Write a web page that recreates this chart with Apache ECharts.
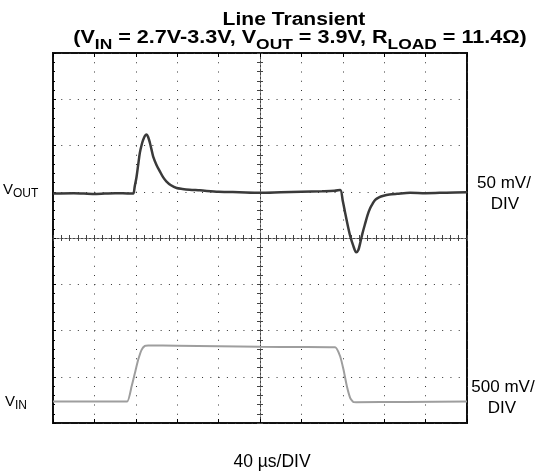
<!DOCTYPE html>
<html>
<head>
<meta charset="utf-8">
<script src="https://cdn.jsdelivr.net/npm/echarts@6/dist/echarts.min.js"></script>
<style>
html,body{margin:0;padding:0;background:#fff;}
#chart{width:535px;height:472px;}
</style>
</head>
<body>
<div id="chart"></div>
<script>
// Time axis: 40 µs/DIV, 10 divisions
const timeTicks = [0, 40, 80, 120, 160, 200, 240, 280, 320, 360, 400];

// VOUT deviation (mV), 50 mV/DIV
const voutTime = [0, 20, 40, 60, 75, 77.5, 79, 80.7, 82.3, 83.9, 85.5, 87.1, 88.8, 90.4, 92, 93.6, 95.2, 96.8, 100, 103.3, 106.5, 109.7, 114, 119.4, 125, 132, 142, 160, 180, 200, 220, 240, 260, 272, 277.5, 280, 282.3, 284.7, 287.2, 290, 293, 295, 296.8, 299, 301.7, 304, 306.5, 309, 311.3, 315, 319.4, 325, 332.4, 345, 360, 380, 400];
const voutMv   = [-2, -1.5, -2.5, -1.5, -2, -2, 6, 16, 29, 42, 50, 56, 60.5, 62, 59, 53, 45.5, 38, 29, 22, 15.5, 11, 7, 4, 3, 2.2, 1.5, 0, -0.5, -1, -0.5, 0, 0.5, 1, 2, -10, -23, -36, -48, -58, -65.5, -63, -55.5, -45, -34, -25, -17.6, -12.5, -8.7, -6, -4.3, -3, -2.2, -1.1, -1.5, -1, -0.5];

// VIN (V), 500 mV/DIV
const vinTime = [0, 40, 71.6, 75.9, 79.1, 82.3, 85.6, 88.8, 92, 120, 160, 200, 240, 272.6, 277.5, 280.7, 284, 287.2, 290.4, 293, 340, 400];
const vinV    = [2.70, 2.70, 2.70, 2.862, 3.007, 3.151, 3.259, 3.302, 3.306, 3.303, 3.298, 3.292, 3.29, 3.286, 3.187, 3.043, 2.862, 2.737, 2.694, 2.693, 2.695, 2.70];

const zip = (a, b) => a.map((v, i) => [v, b[i]]);

const chart = echarts.init(document.getElementById('chart'), null, {renderer: 'canvas'});
const FONT = '"Liberation Sans", Arial, sans-serif';

const hidden = {show: false};
const noLine = {show: false, onZero: false};

const option = {
  animation: false,
  backgroundColor: '#fff',
  grid: {left: 53, right: 68, top: 53, bottom: 49, show: true, borderColor: '#111', borderWidth: 2, outerBoundsMode: 'none'},
  xAxis: [
    { // 0: main bottom
      type: 'value', min: timeTicks[0], max: timeTicks[timeTicks.length - 1], interval: 40, position: 'bottom',
      axisLine: noLine, axisLabel: hidden,
      axisTick: {show: true, inside: true, length: 4, lineStyle: {color: '#000', width: 1}},
      splitLine: {show: true, lineStyle: {type: [1, 8.25], color: '#333', width: 1}}
    },
    { // 1: top border ticks
      type: 'value', min: 0, max: 400, interval: 40, position: 'top',
      axisLine: noLine, axisLabel: hidden, splitLine: hidden,
      axisTick: {show: true, inside: true, length: 4, lineStyle: {color: '#000', width: 1}}
    },
    { // 2: center horizontal, ticks up
      type: 'value', min: 0, max: 400, interval: 40, position: 'bottom',
      axisLine: {show: true, onZero: true, onZeroAxisIndex: 2, lineStyle: {type: [2, 2], color: '#444', width: 1}},
      axisTick: {show: true, inside: true, length: 3, lineStyle: {color: '#444'}},
      minorTick: {show: true, splitNumber: 5, length: 3, lineStyle: {color: '#444'}},
      axisLabel: hidden, splitLine: hidden
    },
    { // 3: center horizontal, ticks down
      type: 'value', min: 0, max: 400, interval: 40, position: 'bottom',
      axisLine: {show: true, onZero: true, onZeroAxisIndex: 2, lineStyle: {type: [2, 2], color: '#444', width: 1}},
      axisTick: {show: true, inside: false, length: 3, lineStyle: {color: '#444'}},
      minorTick: {show: true, splitNumber: 5, length: 3, lineStyle: {color: '#444'}},
      axisLabel: hidden, splitLine: hidden
    },
    { // 4: reference for vertical center
      type: 'value', min: -200, max: 200, show: false
    }
  ],
  yAxis: [
    { // 0: VOUT, mV
      type: 'value', min: -250, max: 150, interval: 50, position: 'left',
      axisLine: noLine, axisLabel: hidden,
      axisTick: {show: true, inside: true, length: 3, lineStyle: {color: '#000'}},
      minorTick: {show: true, splitNumber: 5, length: 2, lineStyle: {color: '#000'}},
      splitLine: {show: true, lineStyle: {type: [1, 7.28], color: '#333', width: 1}}
    },
    { // 1: VIN, V
      type: 'value', min: 2.468, max: 6.468, show: false
    },
    { // 2: center reference
      type: 'value', min: -4, max: 4, show: false
    },
    { // 3: vertical center, ticks right
      type: 'value', min: 0, max: 8, interval: 1, position: 'left',
      axisLine: {show: true, onZero: true, onZeroAxisIndex: 4, lineStyle: {type: [2, 2], color: '#444', width: 1}},
      axisTick: {show: true, inside: true, length: 3, lineStyle: {color: '#444'}},
      minorTick: {show: true, splitNumber: 5, length: 3, lineStyle: {color: '#444'}},
      axisLabel: hidden, splitLine: hidden
    },
    { // 4: vertical center, ticks left
      type: 'value', min: 0, max: 8, interval: 1, position: 'left',
      axisLine: {show: true, onZero: true, onZeroAxisIndex: 4, lineStyle: {type: [2, 2], color: '#444', width: 1}},
      axisTick: {show: true, inside: false, length: 3, lineStyle: {color: '#444'}},
      minorTick: {show: true, splitNumber: 5, length: 3, lineStyle: {color: '#444'}},
      axisLabel: hidden, splitLine: hidden
    }
  ],
  series: [
    {
      name: 'VIN', type: 'line', xAxisIndex: 0, yAxisIndex: 1,
      data: zip(vinTime, vinV), showSymbol: false, smooth: 0.15,
      lineStyle: {color: '#9e9e9e', width: 2}, z: 4
    },
    {
      name: 'VOUT', type: 'line', xAxisIndex: 0, yAxisIndex: 0,
      data: zip(voutTime, voutMv), showSymbol: false, smooth: 0.3,
      lineStyle: {color: '#3a3a3a', width: 2.5}, z: 5
    }
  ],
  graphic: [
    {type: 'text', x: 294, y: 20, scaleX: 1.17, style: {text: 'Line Transient', font: 'bold 18px ' + FONT, fill: '#000', align: 'center', verticalAlign: 'middle'}},
    {type: 'text', x: 300, y: 25, scaleX: 1.2, style: {
      text: '{m|(V}{s|IN}{m| = 2.7V-3.3V, V}{s|OUT}{m| = 3.9V, R}{s|LOAD}{m| = 11.4Ω)}',
      align: 'center', verticalAlign: 'top', fill: '#000',
      rich: {
        m: {fontFamily: FONT, fontWeight: 'bold', fontSize: 18, lineHeight: 27, fill: '#000'},
        s: {fontFamily: FONT, fontWeight: 'bold', fontSize: 14.5, lineHeight: 14, verticalAlign: 'bottom', fill: '#000'}
      }
    }},
    {type: 'text', x: 3, y: 180, style: {
      text: '{m|V}{s|OUT}', align: 'left', verticalAlign: 'top',
      rich: {
        m: {fontFamily: FONT, fontSize: 15, lineHeight: 20, fill: '#000'},
        s: {fontFamily: FONT, fontSize: 12, lineHeight: 12, verticalAlign: 'bottom', fill: '#000'}
      }
    }},
    {type: 'text', x: 5, y: 392, style: {
      text: '{m|V}{s|IN}', align: 'left', verticalAlign: 'top',
      rich: {
        m: {fontFamily: FONT, fontSize: 15, lineHeight: 20, fill: '#000'},
        s: {fontFamily: FONT, fontSize: 12, lineHeight: 12, verticalAlign: 'bottom', fill: '#000'}
      }
    }},
    {type: 'text', x: 504, y: 183, style: {text: '50 mV/', font: '17px ' + FONT, fill: '#000', align: 'center', verticalAlign: 'middle'}},
    {type: 'text', x: 505, y: 204, style: {text: 'DIV', font: '17px ' + FONT, fill: '#000', align: 'center', verticalAlign: 'middle'}},
    {type: 'text', x: 503, y: 387, style: {text: '500 mV/', font: '17px ' + FONT, fill: '#000', align: 'center', verticalAlign: 'middle'}},
    {type: 'text', x: 502, y: 408, style: {text: 'DIV', font: '17px ' + FONT, fill: '#000', align: 'center', verticalAlign: 'middle'}},
    {type: 'text', x: 272, y: 462, style: {text: '40 µs/DIV', font: '17.5px ' + FONT, fill: '#000', align: 'center', verticalAlign: 'middle'}}
  ]
};
chart.setOption(option);
</script>
</body>
</html>
